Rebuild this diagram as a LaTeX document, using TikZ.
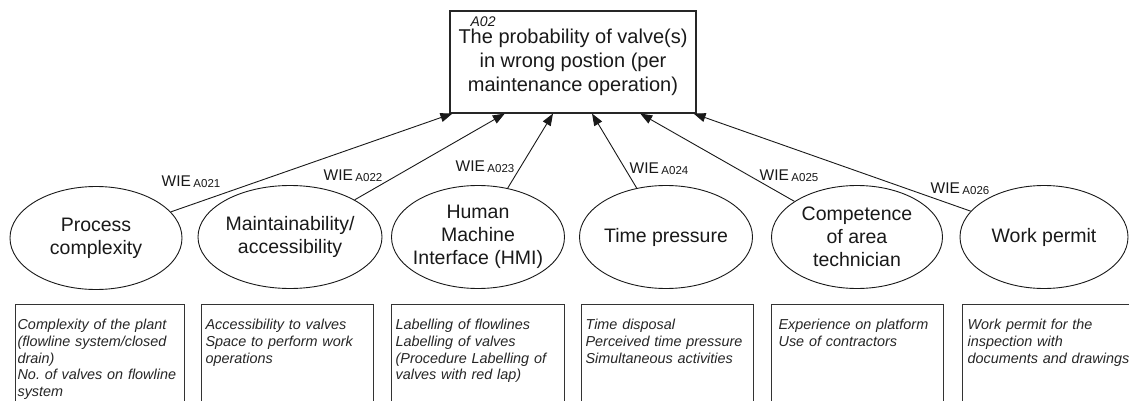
\documentclass[tikz,border=0pt]{standalone}
\usepackage{fontspec}
\setmainfont{Liberation Sans}
\usetikzlibrary{shapes.geometric,arrows.meta,calc}
\frenchspacing

% WIE label with its subscript index
\newcommand\wiename[1]{WIE\hspace{2.5pt}\raisebox{-1pt}{\fontsize{11.5}{12}\selectfont A0#1}}

\begin{document}
\begin{tikzpicture}[x=1pt,y=-1pt,
  factor/.style={ellipse, draw=black!90, line width=0.9pt, minimum height=103pt,
    inner sep=-20pt, align=center, text=black!90, font=\fontsize{19.5}{23}\selectfont},
  goalbox/.style={rectangle, draw=black!85, line width=1.1pt, minimum width=246pt,
    minimum height=102pt, inner sep=0pt, align=center, text=black!90,
    font=\fontsize{20}{24}\selectfont},
  infobox/.style={rectangle, draw=black!80, line width=1.2pt, anchor=north west,
    align=left, inner xsep=4pt, inner ysep=13pt, text height=12pt, text depth=100pt,
    text=black!85, font=\fontsize{14.4}{16.7}\selectfont\itshape},
  link/.style={draw=black!90, line width=0.9pt, -{Triangle[length=12pt,width=9pt]}},
  wie/.style={inner sep=0pt, text=black!90, font=\fontsize{15.5}{16}\selectfont},
  tag/.style={inner sep=0pt, anchor=base west, text=black!90,
    font=\fontsize{14}{14}\selectfont\itshape},
]
\useasboundingbox (0,0) rectangle (1129,401);
\clip (0,0) rectangle (1129,401);
\fill[white] (0,0) rectangle (1129,401);

% top event
\node[goalbox] (goal) at (573,62) {\rule{0pt}{16pt}The probability of valve(s)\\in wrong postion (per\\maintenance operation)};
\node[tag] (code) at ([xshift=21pt,yshift=-16pt]goal.north west) {A02};

% arrow end points along the lower edge of the top event
\coordinate (t1) at ($(goal.south west)!0.012!(goal.south east)$);
\coordinate (t2) at ($(goal.south west)!0.224!(goal.south east)$);
\coordinate (t3) at ($(goal.south west)!0.419!(goal.south east)$);
\coordinate (t4) at ($(goal.south west)!0.577!(goal.south east)$);
\coordinate (t5) at ($(goal.south west)!0.772!(goal.south east)$);
\coordinate (t6) at ($(goal.south west)!0.988!(goal.south east)$);

% influencing factors
\node[factor, minimum width=172pt] (f1) at (96,238) {Process\\complexity};
\node[factor, minimum width=184pt] (f2) at (290,237) {Maintainability/\\accessibility};
\node[factor, minimum width=173pt] (f3) at (478,237) {Human\\Machine\\Interface (HMI)};
\node[factor, minimum width=173pt] (f4) at (666,237) {Time pressure};
\node[factor, minimum width=171pt] (f5) at (857,237) {Competence\\of area\\technician};
\node[factor, minimum width=168pt] (f6) at (1044,237) {Work permit};

% weighted links
\draw[link] (f1) -- (t1);
\draw[link] (f2) -- (t2);
\draw[link] (f3) -- (t3);
\draw[link] (f4) -- (t4);
\draw[link] (f5) -- (t5);
\draw[link] (f6) -- (t6);

\node[wie] (w1) at (191,181.5) {\wiename{21}};
\node[wie] (w2) at (353,176) {\wiename{22}};
\node[wie] (w3) at (485,167) {\wiename{23}};
\node[wie] (w4) at (659,169) {\wiename{24}};
\node[wie] (w5) at (789,176) {\wiename{25}};
\node[wie] (w6) at (960,188.5) {\wiename{26}};

% descriptions of each factor
\node[infobox, inner xsep=2pt, text width=165pt] (d1) at (15,304)
  {\mbox{Complexity of the plant}\\\mbox{(flowline system/closed}\\\mbox{drain)}\\\mbox{No. of valves on flowline}\\\mbox{system}};
\node[infobox, text width=164pt] (d2) at (201,304)
  {\mbox{Accessibility to valves}\\\mbox{Space to perform work}\\\mbox{operations}};
\node[infobox, text width=165pt] (d3) at (391,304)
  {\mbox{Labelling of flowlines}\\\mbox{Labelling of valves}\\\mbox{(Procedure Labelling of}\\\mbox{valves with red lap)}};
\node[infobox, text width=164pt] (d4) at (581,304)
  {\mbox{Time disposal}\\\mbox{Perceived time pressure}\\\mbox{Simultaneous activities}};
\node[infobox, inner xsep=7pt, text width=158pt] (d5) at (771,304)
  {\mbox{Experience on platform}\\\mbox{Use of contractors}};
\node[infobox, inner xsep=5pt, text width=162pt] (d6) at (962,304)
  {\mbox{Work permit for the}\\\mbox{inspection with}\\\mbox{documents and drawings}};
\end{tikzpicture}
\end{document}
